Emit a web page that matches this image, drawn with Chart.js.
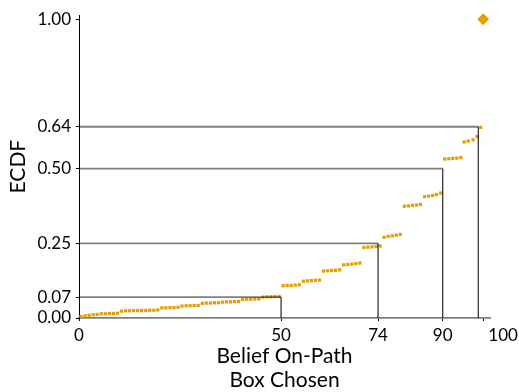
<!DOCTYPE html>
<html><head><meta charset="utf-8">
<script src="https://cdn.jsdelivr.net/npm/chart.js@4"></script>
<style>html,body{margin:0;padding:0;background:#fff}#wrap{width:519px;height:392px;position:relative}</style>
</head><body><div id="wrap"><canvas id="c"></canvas></div>
<script>
// ECDF points (belief on-path box chosen, ECDF value)
const ecdfX = [
  0.5,1.5,2.5,3.5,4.5, 5.5,6.5,7.5,8.5,9.5, 10.5,11.5,12.5,13.5,14.5, 15.5,16.5,17.5,18.5,19.5,
  20.5,21.5,22.5,23.5,24.5, 25.5,26.5,27.5,28.5,29.5, 30.5,31.5,32.5,33.5,34.5, 35.5,36.5,37.5,38.5,39.5,
  40.5,41.5,42.5,43.5,44.5, 45.5,46.5,47.5,48.5,49.5, 50.5,51.5,52.5,53.5,54.5, 55.5,56.5,57.5,58.5,59.5,
  60.5,61.5,62.5,63.5,64.5, 65.5,66.5,67.5,68.5,69.5, 70.5,71.5,72.5,73.5,74.5, 75.5,76.5,77.5,78.5,79.5,
  80.5,81.5,82.5,83.5,84.5, 85.5,86.5,87.5,88.5,89.5, 90.5,91.5,92.5,93.5,94.5, 95.3,96.3,97.5,98.5,99.4
];
const ecdfY = [
  0.005,0.007,0.009,0.011,0.012, 0.014,0.014,0.015,0.015,0.016, 0.023,0.024,0.024,0.025,0.025, 0.025,0.025,0.026,0.026,0.027,
  0.034,0.034,0.035,0.035,0.036, 0.040,0.041,0.041,0.042,0.042, 0.049,0.050,0.050,0.051,0.051, 0.053,0.054,0.054,0.055,0.055,
  0.062,0.063,0.063,0.064,0.064, 0.070,0.071,0.071,0.072,0.072, 0.108,0.109,0.109,0.110,0.111, 0.123,0.124,0.125,0.126,0.127,
  0.157,0.158,0.159,0.160,0.161, 0.178,0.179,0.180,0.182,0.184, 0.236,0.237,0.238,0.239,0.241, 0.270,0.273,0.275,0.277,0.280,
  0.374,0.375,0.377,0.378,0.380, 0.406,0.408,0.410,0.413,0.418, 0.532,0.533,0.534,0.535,0.537, 0.589,0.592,0.596,0.607,0.638
];
// Maximum point (diamond)
const maxX = [100];
const maxY = [1.00];
// Quantile reference lines
const quantX = [50, 74, 90, 98.8];
const quantY = [0.07, 0.25, 0.50, 0.64];
// Ticks
const xTicks = [0, 50, 74, 90, 100];
const yTicks = [0.00, 0.07, 0.25, 0.50, 0.64, 1.00];

const ORANGE = '#E69F00';
const FONT = 'Lato';

const refSets = [];
quantX.forEach((qx, i) => {
  const qy = quantY[i];
  refSets.push({type:'line', data:[{x:0,y:qy},{x:qx,y:qy}], borderColor:'rgba(0,0,0,0.5)', borderWidth:1.8, pointRadius:0, fill:false, clip:false});
  refSets.push({type:'line', data:[{x:qx,y:0},{x:qx,y:qy}], borderColor:'rgba(0,0,0,0.85)', borderWidth:1.2, pointRadius:0, fill:false, clip:false});
});

const label100 = {
  id:'label100',
  afterDraw(chart){
    const xs = chart.scales.x;
    const ctx = chart.ctx;
    const items = xs.getLabelItems();
    const ref = items.find(it => it.label === '90') || items[0];
    ctx.save();
    ctx.font = '17px ' + FONT;
    ctx.fillStyle = '#000';
    ctx.textAlign = 'center';
    ctx.textBaseline = ref.options.textBaseline || 'middle';
    const yy = ref.options.translation[1] + (ref.textOffset || 0);
    ctx.fillText('100', xs.getPixelForValue(100) + 20, yy);
    ctx.restore();
  }
};

new Chart(document.getElementById('c'), {
  type:'scatter',
  data:{
    datasets:[
      ...refSets,
      {data: ecdfX.map((x,i)=>({x, y: ecdfY[i]})), pointStyle:'rect', pointRadius:2.3, backgroundColor:ORANGE, borderWidth:0, showLine:false, clip:false},
      {data: maxX.map((x,i)=>({x, y: maxY[i]})), pointStyle:'rectRot', pointRadius:6, backgroundColor:ORANGE, borderWidth:0, showLine:false, clip:false}
    ]
  },
  options:{
    responsive:true, maintainAspectRatio:false, animation:false,
    events:[],
    layout:{padding:{top:12, right:29, left:0, bottom:0}},
    plugins:{legend:{display:false}, tooltip:{enabled:false}},
    scales:{
      x:{
        type:'linear', min:0, max:101.7,
        afterBuildTicks(s){ s.ticks = xTicks.map(v=>({value:v})); },
        afterFit(s){ s.height = 74; },
        ticks:{ color:'#000', font:{family:FONT, size:17}, padding:4, maxRotation:0, autoSkip:false,
          callback:(v)=> v===100 ? '' : String(v) },
        grid:{ display:true, drawOnChartArea:false, drawTicks:true, tickLength:3, color:'#000', lineWidth:1 },
        border:{ display:true, color:'rgba(0,0,0,0.5)', width:1.8 },
        title:{ display:true, text:['Belief On-Path','Box Chosen'], color:'#000', font:{family:FONT, size:21, lineHeight:24/21}, padding:{top:0,bottom:0} }
      },
      y:{
        type:'linear', min:0, max:1.0132,
        afterBuildTicks(s){ s.ticks = yTicks.map(v=>({value:v})); },
        afterFit(s){ s.width = 79; },
        ticks:{ color:'#000', font:{family:FONT, size:17}, padding:5, autoSkip:false,
          callback:(v)=> Number(v).toFixed(2) },
        grid:{ display:true, drawOnChartArea:false, drawTicks:true, tickLength:3, color:'#000', lineWidth:1 },
        border:{ display:true, color:'#000', width:1 },
        title:{ display:true, text:'ECDF', color:'#000', font:{family:FONT, size:21}, padding:{top:6,bottom:0} }
      }
    }
  },
  plugins:[label100]
});
</script>
</body></html>
